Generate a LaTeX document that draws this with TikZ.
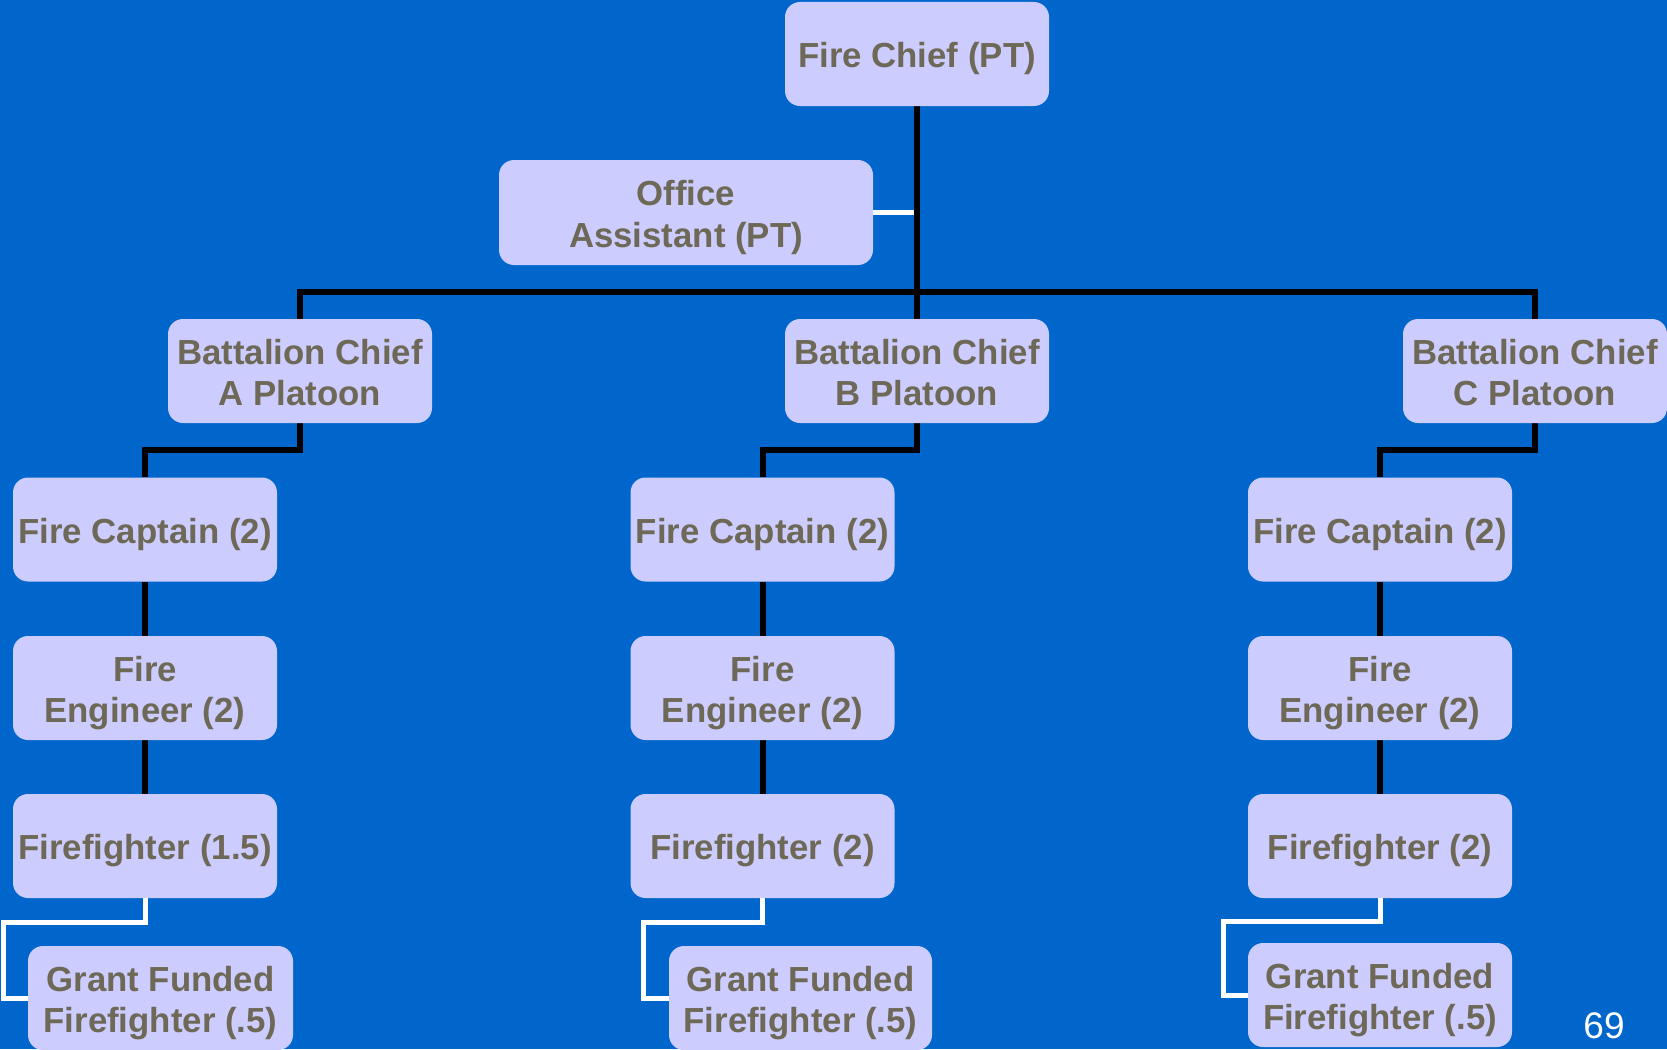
\documentclass[tikz,border=0pt]{standalone}
\usepackage{fontspec}
\setmainfont{Liberation Sans}
\usetikzlibrary{backgrounds}
\definecolor{bgblue}{RGB}{0,102,204}
\definecolor{boxfill}{RGB}{204,204,255}
\definecolor{txt}{RGB}{110,104,86}
\newcommand{\twolines}[2]{\rule{0pt}{36pt}#1\\#2\rule[-8pt]{0pt}{8pt}}
\tikzset{
  orgbox/.style={fill=boxfill, rounded corners=15pt, inner sep=0pt, align=center,
    minimum width=264pt, minimum height=104pt, text=txt,
    font=\fontsize{34.8pt}{41.5pt}\selectfont\bfseries},
  onebox/.style={orgbox,
    execute at begin node={\rule{0pt}{35pt}},
    execute at end node={\rule[-8pt]{0pt}{8pt}}},
  blackline/.style={draw=black, line width=6pt},
  whiteline/.style={draw=white, line width=5pt},
}
\begin{document}
\begin{tikzpicture}[x=1pt,y=-1pt]
\useasboundingbox (0,0) rectangle (1667,1049);
\node[onebox] (chief) at (917,54) {Fire Chief (PT)};
\node[orgbox, minimum width=374pt, minimum height=105pt] (office) at (686,212.5) {\twolines{Office}{Assistant (PT)}};
\node[orgbox] (bcA) at (300,371) {\twolines{Battalion Chief}{A Platoon}};
\node[orgbox] (bcB) at (917,371) {\twolines{Battalion Chief}{B Platoon}};
\node[orgbox] (bcC) at (1535,371) {\twolines{Battalion Chief}{C Platoon}};
\node[onebox] (capA) at (145,529.5) {Fire Captain (2)};
\node[onebox] (capB) at (762.5,529.5) {Fire Captain (2)};
\node[onebox] (capC) at (1380,529.5) {Fire Captain (2)};
\node[orgbox] (engA) at (145,688) {\twolines{Fire}{Engineer (2)}};
\node[orgbox] (engB) at (762.5,688) {\twolines{Fire}{Engineer (2)}};
\node[orgbox] (engC) at (1380,688) {\twolines{Fire}{Engineer (2)}};
\node[onebox] (ffA) at (145,846) {Firefighter (1.5)};
\node[onebox] (ffB) at (762.5,846) {Firefighter (2)};
\node[onebox] (ffC) at (1380,846) {Firefighter (2)};
\node[orgbox, minimum width=265pt] (grA) at (160.5,998) {\twolines{Grant Funded}{Firefighter (.5)}};
\node[orgbox, minimum width=263pt] (grB) at (800.5,998) {\twolines{Grant Funded}{Firefighter (.5)}};
\node[orgbox] (grC) at (1380,995) {\twolines{Grant Funded}{Firefighter (.5)}};
\node[text=white, font=\fontsize{37pt}{44pt}\selectfont, inner sep=0pt] (page) at (1604,1026) {69};
\begin{pgfonlayer}{background}
\fill[bgblue] (0,0) rectangle (1667,1049);
\draw[whiteline] (office.east) -- (office.east -| chief.south);
\draw[blackline] (chief.south) -- (bcB.north);
\draw[blackline] (bcA.north) |- (chief.south |- 0,292) -| (bcC.north);
\draw[blackline] (bcA.south) -- ++(0,27) -| (capA.north);
\draw[blackline] (bcB.south) -- ++(0,27) -| (capB.north);
\draw[blackline] (bcC.south) -- ++(0,27) -| (capC.north);
\draw[blackline] (capA.south) -- (engA.north);
\draw[blackline] (capB.south) -- (engB.north);
\draw[blackline] (capC.south) -- (engC.north);
\draw[blackline] (engA.south) -- (ffA.north);
\draw[blackline] (engB.south) -- (ffB.north);
\draw[blackline] (engC.south) -- (ffC.north);
\draw[whiteline] (ffA.south) -- ++(0,24) -| ([xshift=-24pt]grA.west) -- (grA.west);
\draw[whiteline] (ffB.south) -- ++(0,24) -| ([xshift=-25pt]grB.west) -- (grB.west);
\draw[whiteline] (ffC.south) -- ++(0,23) -| ([xshift=-24pt]grC.west) -- (grC.west);
\end{pgfonlayer}
\end{tikzpicture}
\end{document}
